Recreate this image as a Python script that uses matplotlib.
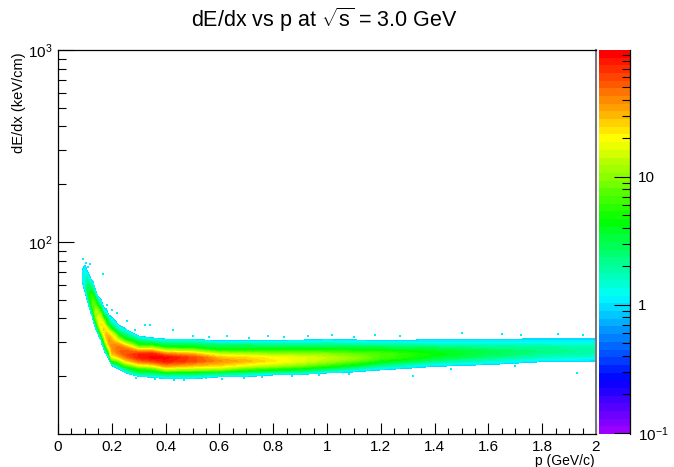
import numpy as np
import matplotlib
matplotlib.use("Agg")
import matplotlib.pyplot as plt
from matplotlib.cm import ScalarMappable
from matplotlib.colors import LinearSegmentedColormap, ListedColormap, LogNorm
from matplotlib.ticker import FixedLocator, NullFormatter

plt.rcParams["font.family"] = ["Liberation Sans", "DejaVu Sans"]
plt.rcParams["mathtext.fontset"] = "custom"
plt.rcParams["mathtext.rm"] = "Liberation Sans"
plt.rcParams["mathtext.default"] = "regular"

# counts, one list per momentum column
dedx_rows = [19, 19.5, 20, 20.5, 21, 22, 23, 24, 25, 26, 27, 28, 29, 30,
             31, 32, 33, 35, 37, 40, 43, 47, 52, 57, 63, 70, 80, 88]
p_cols = [0.085, 0.09, 0.10, 0.11, 0.12, 0.13, 0.14, 0.15, 0.16, 0.17, 0.18, 0.19, 0.20,
          0.225, 0.25, 0.30, 0.35, 0.40, 0.50, 0.60, 0.70, 0.80, 0.90, 1.0, 1.2, 1.4, 1.6, 1.8, 2.0]
counts_by_p = [
    # 19  19.5 20   20.5 21   22   23   24   25   26   27   28   29   30   31   32   33   35   37   40   43   47   52   57   63   70   80   88
    [0,   0,   0,   0,   0,   0,   0,   0,   0,   0,   0,   0,   0,   0,   0,   0,   0,   0,   0,   0,   0,   0,   0,   0,   0,   0,   0,   0],
    [0,   0,   0,   0,   0,   0,   0,   0,   0,   0,   0,   0,   0,   0,   0,   0,   0,   0,   0,   0,   0,   0,   0,   .4,  1,   1,   .4,  0],
    [0,   0,   0,   0,   0,   0,   0,   0,   0,   0,   0,   0,   0,   0,   0,   0,   0,   0,   0,   0,   0,   0,   .4,  1.1, 1.5, 1.3, .6,  0],
    [0,   0,   0,   0,   0,   0,   0,   0,   0,   0,   0,   0,   0,   0,   0,   0,   0,   0,   0,   0,   0,   .4,  1.5, 3,   2,   .9,  .4,  0],
    [0,   0,   0,   0,   0,   0,   0,   0,   0,   0,   0,   0,   0,   0,   0,   0,   0,   0,   0,   0,   .5,  2,   6,   3,   1.1, .5,  0,   0],
    [0,   0,   0,   0,   0,   0,   0,   0,   0,   0,   0,   0,   0,   0,   0,   0,   0,   0,   .4,  1,   3,   8,   6,   2,   .7,  0,   0,   0],
    [0,   0,   0,   0,   0,   0,   0,   0,   0,   0,   0,   0,   0,   0,   0,   0,   0,   .6,  1.5, 7,   13,  7,   2,   .6,  0,   0,   0,   0],
    [0,   0,   0,   0,   0,   0,   0,   0,   0,   0,   0,   0,   0,   0,   0,   .4,  .9,  3,   9,   18,  11,  3,   .7,  0,   0,   0,   0,   0],
    [0,   0,   0,   0,   0,   0,   0,   0,   0,   0,   0,   0,   .4,  .8,  1.2, 2,   4,   14,  24,  15,  6,   1.5, .5,  0,   0,   0,   0,   0],
    [0,   0,   0,   0,   0,   0,   0,   0,   0,   0,   .5,  .9,  1.5, 3,   6,   11,  17,  26,  18,  6,   1.5, .5,  0,   0,   0,   0,   0,   0],
    [0,   0,   0,   0,   0,   0,   0,   0,   .5,  1,   2,   4,   9,   16,  24,  30,  30,  20,  7,   3,   1.2, .5,  0,   0,   0,   0,   0,   0],
    [0,   0,   0,   0,   0,   0,   0,   .7,  1.2, 3,   8,   18,  28,  35,  38,  32,  24,  10,  3.5, 1.3, .5,  0,   0,   0,   0,   0,   0,   0],
    [0,   0,   0,   0,   0,   .4,  1.1, 4.5, 15,  26,  32,  36,  38,  34,  28,  24,  18,  5,   2,   1,   .5,  0,   0,   0,   0,   0,   0,   0],
    [0,   0,   0,   0,   .3,  1,   3,   9,   22,  38,  48,  48,  38,  24,  13,  7,   4,   1.5, .9,  .4,  0,   0,   0,   0,   0,   0,   0,   0],
    [0,   0,   0,   .4,  1,   2.5, 8,   22,  40,  55,  55,  40,  22,  10,  5,   3,   2.2, 1,   .5,  0,   0,   0,   0,   0,   0,   0,   0,   0],
    [0,   .3,  1,   1.8, 3,   6,   20,  45,  75,  75,  35,  12,  5,   3,   2,   1.1, .5,  0,   0,   0,   0,   0,   0,   0,   0,   0,   0,   0],
    [0,   .6,  1.2, 2,   3,   8,   25,  60,  90,  80,  35,  13,  5,   2.5, 1.3, .7,  0,   0,   0,   0,   0,   0,   0,   0,   0,   0,   0,   0],
    [.3,  1,   1.5, 2.5, 4.5, 18,  45,  80,  90,  45,  16,  6,   3,   1.8, 1,   .5,  0,   0,   0,   0,   0,   0,   0,   0,   0,   0,   0,   0],
    [.3,  1,   1.5, 2.5, 4,   15,  35,  60,  60,  32,  13,  5,   3,   1.8, 1,   .5,  0,   0,   0,   0,   0,   0,   0,   0,   0,   0,   0,   0],
    [0,   .5,  1.1, 2,   3,   14,  28,  38,  28,  15,  6,   3.5, 2.5, 1.2, .6,  0,   0,   0,   0,   0,   0,   0,   0,   0,   0,   0,   0,   0],
    [0,   .4,  1,   1.6, 2.5, 8,   20,  30,  24,  13,  6,   3.5, 2.5, 1.3, .6,  0,   0,   0,   0,   0,   0,   0,   0,   0,   0,   0,   0,   0],
    [0,   0,   .6,  1.1, 2,   6,   15,  22,  20,  11,  6,   3.5, 2.2, 1.3, .7,  0,   0,   0,   0,   0,   0,   0,   0,   0,   0,   0,   0,   0],
    [0,   0,   .4,  1,   1.8, 4.5, 11,  17,  17,  11,  6,   3.5, 2.2, 1.3, .8,  .4,  0,   0,   0,   0,   0,   0,   0,   0,   0,   0,   0,   0],
    [0,   0,   0,   .5,  1.2, 3,   7,   12,  14,  10,  6,   3.5, 2.2, 1.4, 1,   .5,  0,   0,   0,   0,   0,   0,   0,   0,   0,   0,   0,   0],
    [0,   0,   0,   0,   .5,  1.2, 2.5, 4.5, 7,   7,   5,   3.2, 2,   1.2, .7,  .4,  0,   0,   0,   0,   0,   0,   0,   0,   0,   0,   0,   0],
    [0,   0,   0,   0,   0,   .6,  1.2, 2.2, 3.5, 4.5, 4,   2.8, 1.8, 1.2, .9,  .4,  0,   0,   0,   0,   0,   0,   0,   0,   0,   0,   0,   0],
    [0,   0,   0,   0,   0,   .4,  .9,  1.5, 2.2, 2.9, 3,   2.2, 1.7, 1.2, 1,   .5,  0,   0,   0,   0,   0,   0,   0,   0,   0,   0,   0,   0],
    [0,   0,   0,   0,   0,   0,   .5,  1,   1.5, 2,   2.3, 2.1, 1.6, 1.2, 1,   .6,  0,   0,   0,   0,   0,   0,   0,   0,   0,   0,   0,   0],
    [0,   0,   0,   0,   0,   0,   .4,  .9,  1.3, 1.7, 1.9, 1.8, 1.5, 1.2, 1,   .6,  0,   0,   0,   0,   0,   0,   0,   0,   0,   0,   0,   0],
]
# single stray entries outside the dense band
stray_p = [0.094, 0.104, 0.119, 0.111, 0.166, 0.181, 0.200, 0.218, 0.255, 0.286, 0.323, 0.342, 0.429,
           0.50, 0.56, 0.63, 0.71, 0.78, 0.84, 0.93, 1.02, 1.10, 1.18, 1.27, 1.50, 1.65, 1.86, 1.72, 1.95,
           0.29, 0.36, 0.43, 0.47, 0.55, 0.61, 0.69, 0.76, 0.87, 0.97, 1.08, 1.32, 1.93, 1.46, 1.70]
stray_dedx = [82, 78, 76.8, 74, 68, 47, 44.3, 42.5, 38.9, 34.8, 36.9, 36.9, 34.8,
              32.4, 32.1, 32.5, 31.8, 32.2, 32.0, 32.4, 32.6, 32.1, 32.8, 32.5, 33.6, 33.1, 33.1, 32.7, 32.9,
              19.6, 19.3, 19.1, 19.2, 19.5, 19.4, 19.6, 19.9, 20.0, 20.3, 20.6, 20.0, 20.8, 21.9, 22.6]
x_ticks = [0, 0.2, 0.4, 0.6, 0.8, 1, 1.2, 1.4, 1.6, 1.8, 2]
x_tick_labels = ["0", "0.2", "0.4", "0.6", "0.8", "1", "1.2", "1.4", "1.6", "1.8", "2"]
y_ticks = [100, 1000]
y_tick_labels = ["$10^{2}$", "$10^{3}$"]
z_ticks = [0.1, 1, 10]
z_tick_labels = ["$10^{-1}$", "1", "10"]

W, H = 674, 467
ZMIN, ZMAX = 0.098, 98

# ROOT rainbow palette, 50 flat steps
rainbow = LinearSegmentedColormap.from_list("rainbow", [
    (0.0, "#9900ff"), (0.133, "#0000ff"), (0.355, "#00ffff"),
    (0.558, "#00ff00"), (0.775, "#ffff00"), (1.0, "#ff0000")])
palette = ListedColormap(rainbow(np.linspace(0, 1, 50)))
norm = LogNorm(ZMIN, ZMAX)
levels = np.geomspace(ZMIN, ZMAX, 51)[16:]


def box(x0, y0, x1, y1):
    return [x0 / W, 1 - y1 / H, (x1 - x0) / W, (y1 - y0) / H]


fig = plt.figure(figsize=(W / 100, H / 100), dpi=100)
ax = fig.add_axes(box(58, 50, 596, 434))
cax = fig.add_axes(box(599, 50, 630, 434))

counts = np.array(counts_by_p).T
ax.contourf(p_cols, dedx_rows, counts, levels=levels, cmap=palette, norm=norm,
            antialiased=False)
ax.scatter(stray_p, stray_dedx, s=1.2, marker="s", color="#00f0ff", linewidths=0)

ax.set_yscale("log")
ax.set_xlim(0, 2)
ax.set_ylim(10, 1000)
ax.set_xticks(x_ticks, x_tick_labels)
ax.xaxis.set_minor_locator(FixedLocator(np.arange(0, 2.01, 0.05)))
ax.set_yticks(y_ticks, y_tick_labels)
ax.yaxis.set_minor_locator(FixedLocator(
    [m * d for d in (10, 100) for m in range(2, 10)]))
ax.yaxis.set_minor_formatter(NullFormatter())
ax.tick_params(which="both", direction="in", top=False, right=False, width=0.8, labelsize=11)
ax.tick_params(axis="x", which="major", length=8, pad=4.5)
ax.tick_params(axis="x", which="minor", length=4)
ax.tick_params(axis="y", which="major", length=11.5, pad=4)
ax.tick_params(axis="y", which="minor", length=5.8)
for s in ("left", "bottom", "top"):
    ax.spines[s].set_linewidth(0.9)
ax.spines["right"].set_color("#777777")
ax.spines["right"].set_linewidth(1.5)

cb = fig.colorbar(ScalarMappable(norm=norm, cmap=palette), cax=cax)
cb.outline.set_visible(False)
cax.yaxis.set_ticks_position("right")
cb.set_ticks(z_ticks, labels=z_tick_labels)
cax.yaxis.set_minor_locator(FixedLocator(
    [m * d for d in (0.1, 1, 10) for m in range(2, 10) if m * d < ZMAX]))
cax.yaxis.set_minor_formatter(NullFormatter())
cax.tick_params(which="both", direction="in", width=0.8, labelsize=11)
cax.tick_params(which="major", length=11.5, pad=6)
cax.tick_params(which="minor", length=5.8)
cax.plot([1, 1], [0, 1], transform=cax.transAxes, color="black", lw=0.9, clip_on=False)

fig.text(324 / W, 1 - 20 / H, r"dE/dx vs p at $\sqrt{s}$ = 3.0 GeV", ha="center", va="center", fontsize=15.5)
fig.text(595 / W, 1 - 460.5 / H, "p (GeV/c)", ha="right", va="center", fontsize=10)
fig.text(19 / W, 1 - 52 / H, "dE/dx (keV/cm)", ha="center", va="top", rotation=90, fontsize=10.5)

fig.savefig("out.png", dpi=100)
